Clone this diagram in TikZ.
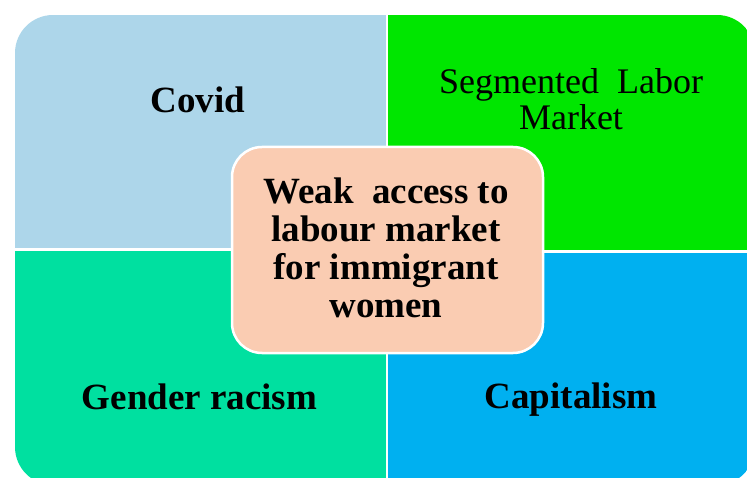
\documentclass[tikz,border=0pt]{standalone}
\usepackage{fontspec}
\setmainfont{Liberation Serif}
\definecolor{qblue}{HTML}{ADD6EA}
\definecolor{qgreen}{HTML}{00E600}
\definecolor{qteal}{HTML}{00E0A0}
\definecolor{qsky}{HTML}{00B0F0}
\definecolor{peach}{HTML}{FACCB2}
\tikzset{
  lbl/.style={inner sep=0pt, font=\fontsize{37}{38.2}\selectfont\bfseries, text=black},
  lblreg/.style={inner sep=0pt, font=\fontsize{36}{36}\selectfont, text=black, align=center},
  centerbox/.style={draw=white, line width=2.5pt, fill=peach, rounded corners=30pt}
}
\begin{document}
\begin{tikzpicture}[x=1pt,y=-1pt]
\useasboundingbox (0,0) rectangle (747,478);
\begin{scope}
  \clip[rounded corners=38pt] (15,15) rectangle (755,485);
  \fill[qblue]  (15,15)  rectangle (385.5,248.5);
  \fill[qgreen] (388,15) rectangle (755,250.5);
  \fill[qteal]  (15,251) rectangle (385.5,485);
  \fill[qsky]   (388,253) rectangle (755,485);
\end{scope}
\draw[centerbox] (232,147) rectangle (543,353);
\node[lbl, anchor=base] (covid) at (198,113) {Covid};
\node[lblreg] (seg) at (571,99) {Segmented\ \ Labor\\Market};
\node[lbl, anchor=base] (gender) at (199.5,409) {Gender racism};
\node[lbl, anchor=base] (cap) at (571,408) {Capitalism};
\node[lbl, align=center] (weak) at (386,248) {Weak\ \ access to\\labour\ market\\for\ immigrant\\women};
\end{tikzpicture}
\end{document}
